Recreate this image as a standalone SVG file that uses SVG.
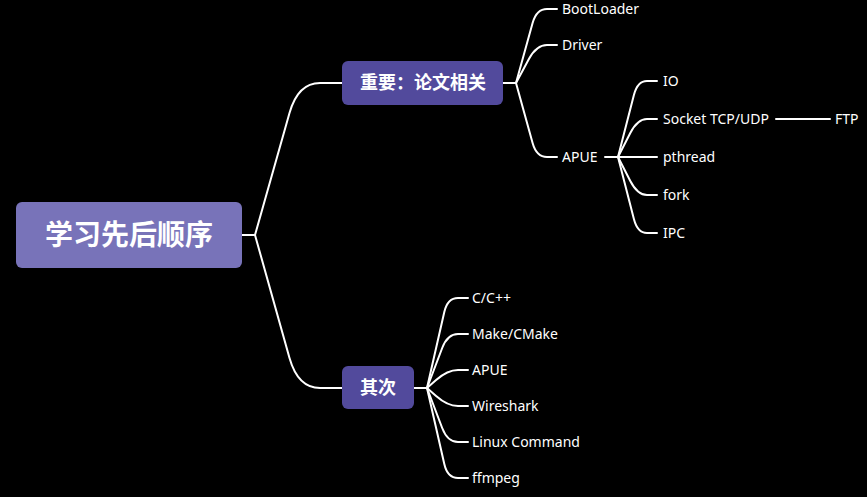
<svg xmlns="http://www.w3.org/2000/svg" width="867" height="497" viewBox="0 0 867 497">
<style>
.bg{fill:#000}
.root{fill:#7873b9}
.main{fill:#524a9c}
.t-root{font-family:"Noto Sans CJK SC","Noto Sans",sans-serif;font-weight:bold;font-size:28px;fill:#fff;text-anchor:middle}
.t-main{font-family:"Noto Sans CJK SC","Noto Sans",sans-serif;font-weight:bold;font-size:18px;fill:#fff;text-anchor:middle}
.t-leaf{font-family:"Noto Sans","Open Sans",sans-serif;font-size:14px;fill:#fff}
.c{fill:none;stroke:#fff;stroke-width:2;stroke-linecap:round;stroke-linejoin:round}
</style>
<rect class="bg" x="0" y="0" width="867" height="497"/>
<g id="connectors">
<path class="c" d="M242,235 L255,235"/>
<path class="c" d="M255,235 L289.5,113 Q298,83 320,83 L342,83"/>
<path class="c" d="M255,235 L289.5,358 Q298,388 320,388 L342,388"/>
<path class="c" d="M503,83 L516,83"/>
<path class="c" d="M516,83 L532.6,23 Q536.5,9 547,9 L557,9"/>
<path class="c" d="M516,83 L528.9,59 Q536.5,45 547,45 L557,45"/>
<path class="c" d="M516,83 L532.6,143 Q536.5,157 547,157 L557,157"/>
<path class="c" d="M605,157 L618,157"/>
<path class="c" d="M618,157 L633.9,95 Q637.5,81 647,81 L657,81"/>
<path class="c" d="M618,157 L630.3,133 Q637.5,119 647,119 L657,119"/>
<path class="c" d="M618,157 L657,157"/>
<path class="c" d="M618,157 L630.3,181 Q637.5,195 647,195 L657,195"/>
<path class="c" d="M618,157 L633.9,219 Q637.5,233 647,233 L657,233"/>
<path class="c" d="M776,119 L830,119"/>
<path class="c" d="M414,388 L427,388"/>
<path class="c" d="M427,388 L444.3,312 Q447.5,298 458,298 L468,298"/>
<path class="c" d="M427,388 L442.2,348 Q447.5,334 458,334 L468,334"/>
<path class="c" d="M427,388 L436.1,380 Q447.5,370 458,370 L468,370"/>
<path class="c" d="M427,388 L436.1,396 Q447.5,406 458,406 L468,406"/>
<path class="c" d="M427,388 L442.2,428 Q447.5,442 458,442 L468,442"/>
<path class="c" d="M427,388 L444.3,464 Q447.5,478 458,478 L468,478"/>
</g>
<g id="root">
<rect class="root" x="16" y="202" width="226" height="66" rx="6"/>
<text class="t-root" x="129" y="245">学习先后顺序</text>
</g>
<g id="n-important">
<rect class="main" x="342" y="61" width="161" height="44" rx="6"/>
<text class="t-main" x="423" y="89">重要：论文相关</text>
</g>
<g id="n-secondary">
<rect class="main" x="342" y="366" width="72" height="43" rx="6"/>
<text class="t-main" x="378" y="394">其次</text>
</g>
<g id="n-bootloader"><text class="t-leaf" x="562" y="14">BootLoader</text></g>
<g id="n-driver"><text class="t-leaf" x="562" y="50">Driver</text></g>
<g id="n-apue1"><text class="t-leaf" x="562" y="162">APUE</text></g>
<g id="n-io"><text class="t-leaf" x="663" y="86">IO</text></g>
<g id="n-socket"><text class="t-leaf" x="663" y="124">Socket TCP/UDP</text></g>
<g id="n-ftp"><text class="t-leaf" x="835" y="124">FTP</text></g>
<g id="n-pthread"><text class="t-leaf" x="663" y="162">pthread</text></g>
<g id="n-fork"><text class="t-leaf" x="663" y="200">fork</text></g>
<g id="n-ipc"><text class="t-leaf" x="663" y="238">IPC</text></g>
<g id="n-cpp"><text class="t-leaf" x="472" y="303">C/C++</text></g>
<g id="n-make"><text class="t-leaf" x="472" y="339">Make/CMake</text></g>
<g id="n-apue2"><text class="t-leaf" x="472" y="375">APUE</text></g>
<g id="n-wireshark"><text class="t-leaf" x="472" y="411">Wireshark</text></g>
<g id="n-linux"><text class="t-leaf" x="472" y="447">Linux Command</text></g>
<g id="n-ffmpeg"><text class="t-leaf" x="472" y="483">ffmpeg</text></g>
</svg>
